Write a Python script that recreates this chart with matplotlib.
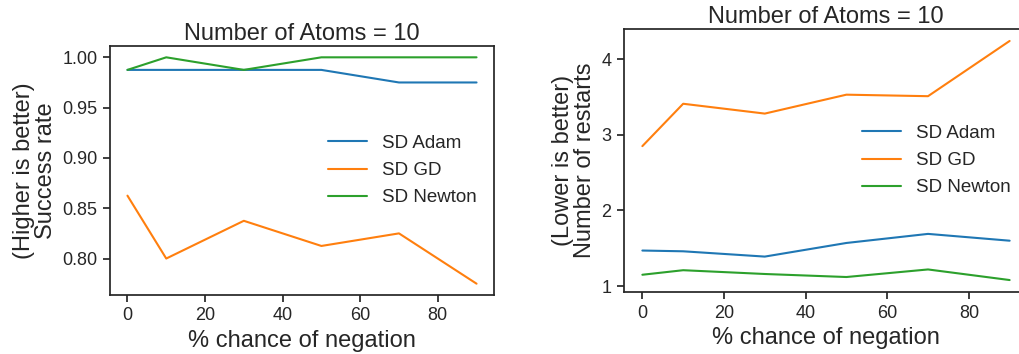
import matplotlib
matplotlib.use("Agg")
import matplotlib.pyplot as plt
import seaborn as sns

neg_pct = [0, 10, 30, 50, 70, 90]
methods = ["SD Adam", "SD GD", "SD Newton"]

success_adam = [0.9875, 0.9875, 0.9875, 0.9875, 0.975, 0.975]
success_gd = [0.8625, 0.8, 0.8375, 0.8125, 0.825, 0.775]
success_newton = [0.9875, 1.0, 0.9875, 1.0, 1.0, 1.0]

restarts_adam = [1.47, 1.46, 1.39, 1.57, 1.69, 1.60]
restarts_gd = [2.85, 3.41, 3.28, 3.53, 3.51, 4.24]
restarts_newton = [1.15, 1.21, 1.16, 1.12, 1.22, 1.08]

sns.set_style("ticks")
plt.rcParams["font.family"] = ["Liberation Sans", "DejaVu Sans"]
plt.rcParams["axes.linewidth"] = 1.25

W, H = 1020, 354
fig = plt.figure(figsize=(W / 100, H / 100), dpi=100)
ax1 = fig.add_axes([110 / W, (H - 295) / H, 384 / W, 249 / H])
ax2 = fig.add_axes([624 / W, (H - 292) / H, 404 / W, 263 / H])

panels = [
    (ax1, [success_adam, success_gd, success_newton], "(Higher is better)\nSuccess rate"),
    (ax2, [restarts_adam, restarts_gd, restarts_newton], "(Lower is better)\nNumber of restarts"),
]

for ax, series, ylabel in panels:
    for name, vals in zip(methods, series):
        ax.plot(neg_pct, vals, label=name, linewidth=1.5)
    ax.set_title("Number of Atoms = 10", fontsize=17, pad=4)
    ax.set_xlabel("% chance of negation", fontsize=17, labelpad=4)
    ax.set_ylabel(ylabel, fontsize=17, linespacing=1.0, labelpad=4)
    ax.tick_params(labelsize=13, length=5, width=1.25, pad=4)
    ax.set_xticks([0, 20, 40, 60, 80])
    ax.legend(loc="center right", frameon=False, fontsize=13.5,
              handlelength=2.1, handletextpad=0.8, labelspacing=0.55)

ax2.set_yticks([1, 2, 3, 4])

fig.savefig("out.png", dpi=100, facecolor="white")
